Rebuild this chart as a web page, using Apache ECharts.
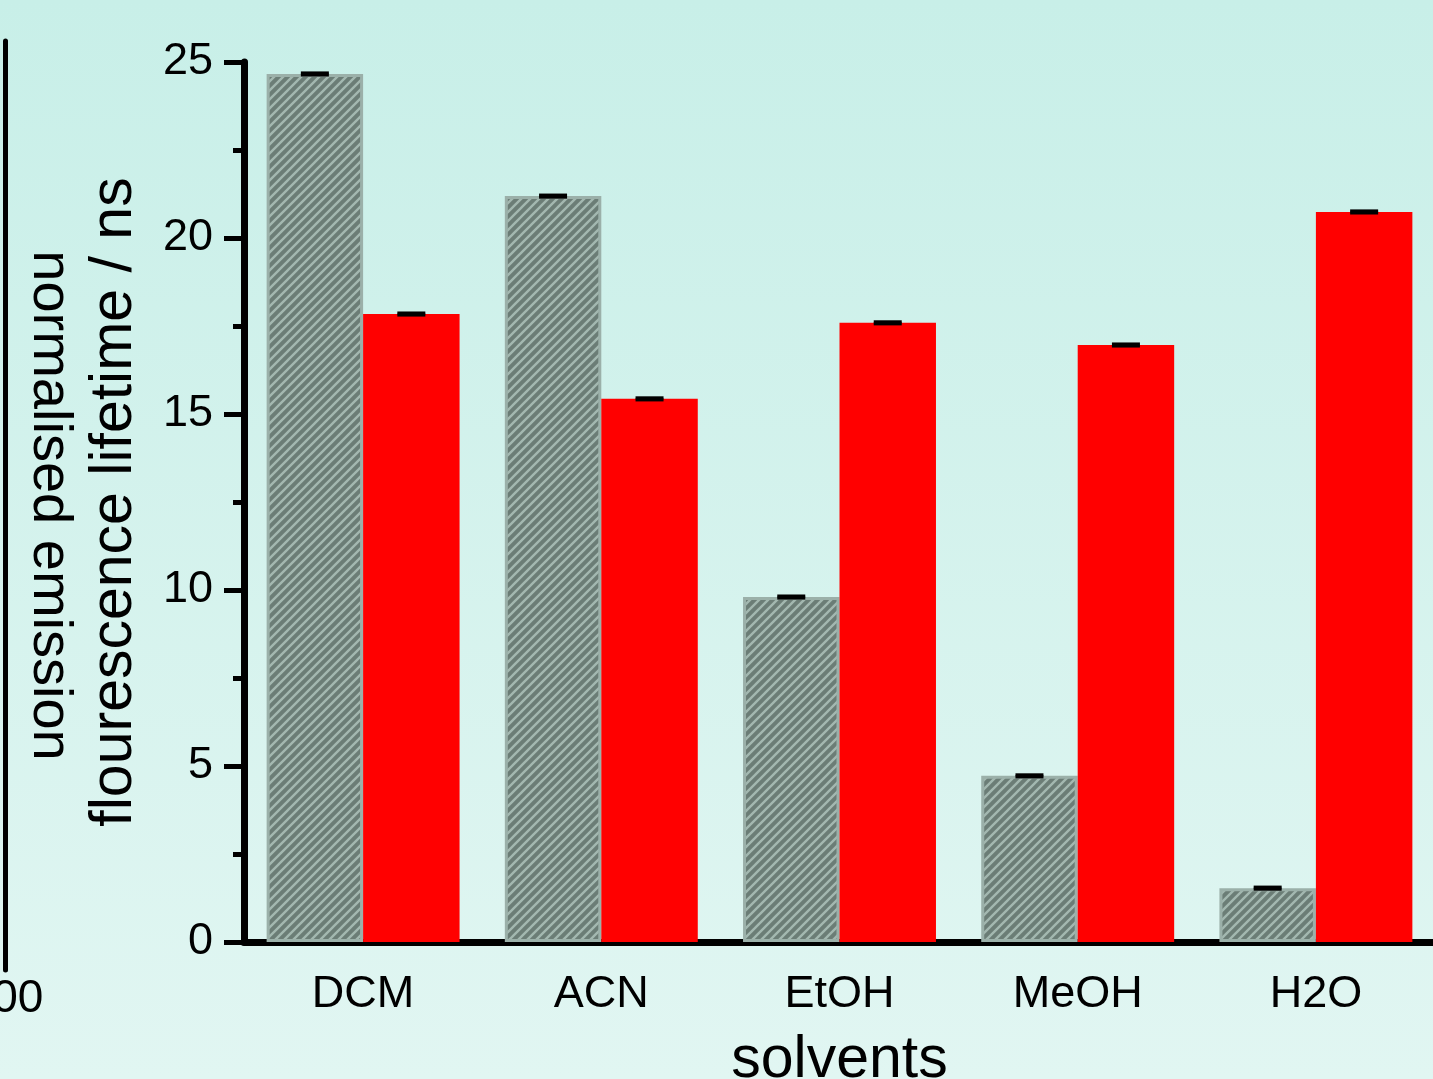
<!DOCTYPE html>
<html><head><meta charset="utf-8">
<script src="https://cdn.jsdelivr.net/npm/echarts@6/dist/echarts.min.js"></script>
<style>html,body{margin:0;padding:0;overflow:hidden}#c{width:1433px;height:1079px}</style>
</head><body><div id="c"></div>
<script>
// ---- data ----
const categories = ['DCM', 'ACN', 'EtOH', 'MeOH', 'H2O'];
const greyValues = [24.66, 21.19, 9.80, 4.72, 1.53];
const redValues = [17.84, 15.43, 17.59, 16.96, 20.74];
const greyErrors = [0.03, 0.03, 0.03, 0.03, 0.03];
const redErrors = [0.03, 0.03, 0.03, 0.03, 0.03];
const yTicks = [0, 5, 10, 15, 20, 25];
const leftPanelTicks = [800];

const FONT = '"Liberation Sans", Arial, sans-serif';

// hatch pattern
const pc = document.createElement('canvas');
pc.width = 9; pc.height = 9;
const g = pc.getContext('2d');
g.fillStyle = '#6b7d76'; g.fillRect(0, 0, 9, 9);
g.strokeStyle = '#a3b8b0'; g.lineWidth = 2.4;
g.beginPath();
g.moveTo(0, 9); g.lineTo(9, 0);
g.moveTo(-1, 1); g.lineTo(1, -1);
g.moveTo(8, 10); g.lineTo(10, 8);
g.stroke();

const errData = [];
categories.forEach((c, i) => {
  errData.push([i, greyValues[i], greyErrors[i], 0]);
  errData.push([i, redValues[i], redErrors[i], 1]);
});

const chart = echarts.init(document.getElementById('c'), null, {renderer: 'canvas'});
chart.setOption({
  backgroundColor: {type: 'linear', x: 0, y: 0, x2: 0, y2: 1,
    colorStops: [{offset: 0, color: '#c8efe8'}, {offset: 1, color: '#e1f6f2'}]},
  animation: false,
  grid: [
    {left: 244, right: -2, top: 62, bottom: 137, containLabel: false, outerBoundsMode: 'none'},
    {left: -600, width: 605, top: 41, bottom: 109, containLabel: false, outerBoundsMode: 'none'}
  ],
  xAxis: [
    {
      gridIndex: 0, type: 'category', data: categories,
      name: 'solvents', nameLocation: 'middle', nameGap: 89,
      nameTextStyle: {fontSize: 59, color: '#000', fontFamily: FONT},
      axisLine: {lineStyle: {color: '#000', width: 7}},
      axisTick: {alignWithLabel: true, length: 21, lineStyle: {color: '#000', width: 5}},
      axisLabel: {fontSize: 45, color: '#000', fontFamily: FONT, margin: 30}
    },
    {
      gridIndex: 1, type: 'value', min: 400, max: 800, interval: 400,
      axisLine: {show: false}, axisTick: {show: false}, splitLine: {show: false},
      axisLabel: {fontSize: 46, color: '#000', fontFamily: FONT, margin: 6,
        formatter: v => leftPanelTicks.indexOf(v) >= 0 ? String(v) : ''}
    }
  ],
  yAxis: [
    {
      gridIndex: 0, type: 'value', min: yTicks[0], max: yTicks[yTicks.length - 1], interval: 5,
      name: 'flourescence lifetime / ns', nameLocation: 'middle', nameGap: 100, nameRotate: 90,
      nameTextStyle: {fontSize: 59, color: '#000', fontFamily: FONT},
      axisLine: {show: true, lineStyle: {color: '#000', width: 7}},
      axisTick: {show: true, length: 20, lineStyle: {color: '#000', width: 5}},
      minorTick: {show: true, splitNumber: 2, length: 11, lineStyle: {color: '#000', width: 5}},
      splitLine: {show: false},
      axisLabel: {fontSize: 45, color: '#000', fontFamily: FONT, margin: 31}
    },
    {
      gridIndex: 1, type: 'value', position: 'right', min: 0, max: 1,
      name: 'normalised emission', nameLocation: 'middle', nameGap: 16, nameRotate: -90,
      nameTextStyle: {fontSize: 56, color: '#000', fontFamily: FONT},
      axisLine: {show: true, lineStyle: {color: '#000', width: 5}},
      axisTick: {show: false}, axisLabel: {show: false}, splitLine: {show: false}
    }
  ],
  series: [
    {
      type: 'bar', xAxisIndex: 0, yAxisIndex: 0, data: greyValues,
      barGap: '0%', barCategoryGap: '19%',
      itemStyle: {color: {image: pc, repeat: 'repeat'}, borderColor: '#9bb0a9', borderWidth: 3}
    },
    {
      type: 'bar', xAxisIndex: 0, yAxisIndex: 0, data: redValues,
      barGap: '0%', barCategoryGap: '19%',
      itemStyle: {color: '#ff0000'}
    },
    {
      type: 'custom', xAxisIndex: 0, yAxisIndex: 0, data: errData, z: 10,
      renderItem: function (params, api) {
        const i = api.value(0), v = api.value(1), e = api.value(2), s = api.value(3);
        const band = api.size([1, 0])[0];
        const bw = band * 0.81 / 2;
        const off = s === 0 ? -bw / 2 : bw / 2;
        const p = api.coord([i, v]);
        const hi = api.coord([i, v + e])[1];
        const lo = api.coord([i, v - e])[1];
        const x = p[0] + off;
        const st = {stroke: '#000', lineWidth: 3};
        return {type: 'group', children: [
          {type: 'line', shape: {x1: x - 14, y1: hi, x2: x + 14, y2: hi}, style: st},
          {type: 'line', shape: {x1: x - 14, y1: lo, x2: x + 14, y2: lo}, style: st},
          {type: 'line', shape: {x1: x, y1: hi, x2: x, y2: lo}, style: st}
        ]};
      }
    }
  ]
});
</script></body></html>
